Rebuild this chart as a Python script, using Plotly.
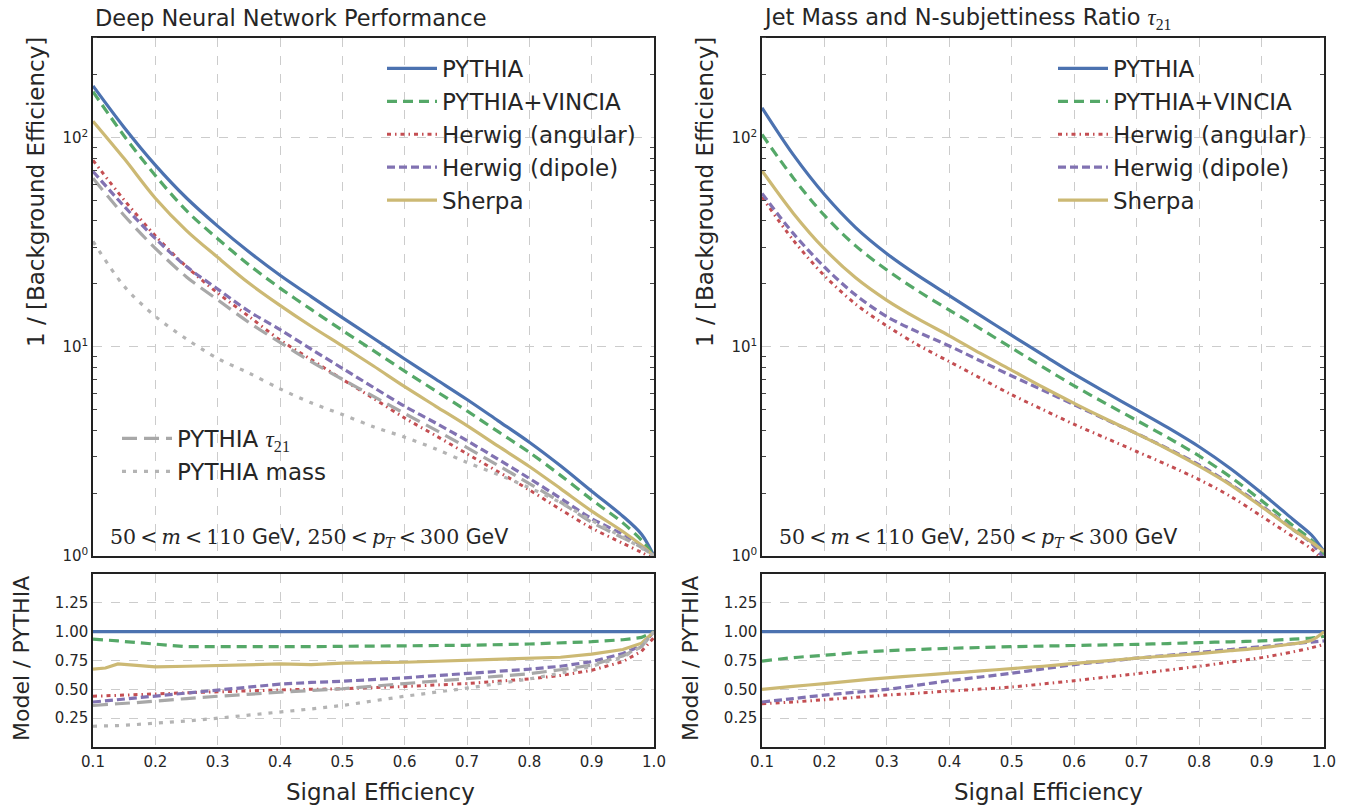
import plotly.graph_objects as go

# ---------------- data ----------------
X_MAIN = [0.1, 0.15, 0.2, 0.25, 0.3, 0.35, 0.4, 0.45, 0.5, 0.55, 0.6, 0.65, 0.7, 0.75,
          0.8, 0.85, 0.9, 0.95, 0.98, 1.0]

# Left panel: Deep Neural Network
DNN_PYTHIA = [177, 112, 74, 51.5, 37.8, 28.5, 22, 17.4, 13.8, 11.0, 8.75, 7.0, 5.6, 4.43, 3.5, 2.7, 2.04, 1.55, 1.27, 1.0]
DNN_VINCIA = [166, 102, 66, 44.8, 32.9, 24.7, 19.1, 15.1, 12.0, 9.6, 7.65, 6.15, 4.94, 3.93, 3.13, 2.43, 1.86, 1.44, 1.19, 1.0]
DNN_ANGULAR = [78, 50.4, 34, 24.2, 18.1, 14.0, 10.8, 8.7, 7.0, 5.67, 4.57, 3.76, 3.08, 2.53, 2.07, 1.67, 1.36, 1.15, 1.04, 0.97]
DNN_DIPOLE = [69, 47, 33, 24.2, 18.9, 14.8, 12.1, 9.75, 7.9, 6.4, 5.2, 4.32, 3.56, 2.9, 2.35, 1.89, 1.51, 1.27, 1.12, 1.0]
DNN_SHERPA = [120, 79.5, 51.4, 36, 26.8, 20.2, 15.8, 12.55, 10.1, 8.1, 6.45, 5.2, 4.2, 3.35, 2.68, 2.1, 1.64, 1.31, 1.125, 1.0]
DNN_TAU21 = [64, 42.5, 29.6, 21.6, 16.8, 13.1, 10.5, 8.5, 7.0, 5.8, 4.8, 4.0, 3.3, 2.71, 2.22, 1.81, 1.45, 1.22, 1.1, 1.0]
DNN_MASS = [32, 19.5, 14, 10.9, 8.8, 7.5, 6.3, 5.4, 4.75, 4.15, 3.7, 3.25, 2.8, 2.45, 2.12, 1.8, 1.48, 1.23, 1.09, 1.0]

# Right panel: jet mass + tau21
CUT_PYTHIA = [139, 83, 53.5, 37.2, 27.9, 21.9, 17.6, 14.1, 11.35, 9.16, 7.4, 6.07, 5.0, 4.11, 3.33, 2.62, 2.0, 1.5, 1.26, 1.05]
CUT_VINCIA = [103.6, 64.3, 42.5, 30.4, 23.3, 18.5, 15.0, 12.2, 9.87, 8.0, 6.51, 5.37, 4.45, 3.68, 3.01, 2.39, 1.84, 1.40, 1.19, 1.01]
CUT_ANGULAR = [52.1, 32.4, 21.9, 16.0, 12.6, 10.2, 8.5, 7.08, 5.9, 5.01, 4.26, 3.67, 3.16, 2.72, 2.32, 1.93, 1.55, 1.24, 1.08, 0.94]
CUT_DIPOLE = [54.2, 34.9, 24.1, 17.7, 13.95, 11.76, 10.1, 8.56, 7.26, 6.2, 5.29, 4.5, 3.85, 3.26, 2.73, 2.21, 1.74, 1.34, 1.15, 0.97]
CUT_SHERPA = [69.5, 43.6, 29.4, 21.4, 16.7, 13.6, 11.3, 9.3, 7.72, 6.41, 5.37, 4.53, 3.85, 3.24, 2.69, 2.19, 1.72, 1.34, 1.165, 1.05]

# Ratio panels
X_RATIO_L = [0.1, 0.12, 0.14, 0.17, 0.2, 0.25, 0.3, 0.35, 0.4, 0.45, 0.5, 0.6, 0.7, 0.8, 0.85, 0.9, 0.95, 0.98, 1.0]
R_DNN_PYTHIA = [1.0, 1.0, 1.0, 1.0, 1.0, 1.0, 1.0, 1.0, 1.0, 1.0, 1.0, 1.0, 1.0, 1.0, 1.0, 1.0, 1.0, 1.0, 1.0]
R_DNN_VINCIA = [0.935, 0.93, 0.92, 0.905, 0.89, 0.87, 0.87, 0.868, 0.868, 0.87, 0.873, 0.876, 0.882, 0.893, 0.90, 0.913, 0.93, 0.95, 1.0]
R_DNN_ANGULAR = [0.44, 0.445, 0.45, 0.455, 0.46, 0.47, 0.48, 0.49, 0.495, 0.50, 0.505, 0.525, 0.55, 0.59, 0.62, 0.665, 0.74, 0.83, 0.95]
R_DNN_DIPOLE = [0.39, 0.40, 0.41, 0.43, 0.445, 0.47, 0.495, 0.52, 0.545, 0.56, 0.57, 0.60, 0.635, 0.675, 0.70, 0.74, 0.81, 0.88, 1.0]
R_DNN_SHERPA = [0.675, 0.685, 0.72, 0.705, 0.695, 0.70, 0.705, 0.71, 0.72, 0.715, 0.727, 0.735, 0.75, 0.765, 0.778, 0.805, 0.845, 0.9, 1.0]
R_DNN_TAU21 = [0.36, 0.365, 0.375, 0.385, 0.40, 0.42, 0.44, 0.46, 0.475, 0.49, 0.505, 0.55, 0.59, 0.635, 0.67, 0.71, 0.79, 0.87, 1.0]
R_DNN_MASS = [0.18, 0.182, 0.186, 0.195, 0.205, 0.225, 0.25, 0.275, 0.30, 0.33, 0.36, 0.44, 0.51, 0.59, 0.64, 0.70, 0.78, 0.87, 1.0]

X_RATIO_R = [0.1, 0.15, 0.2, 0.25, 0.3, 0.35, 0.4, 0.45, 0.5, 0.55, 0.6, 0.65, 0.7, 0.75,
             0.8, 0.85, 0.9, 0.95, 0.98, 1.0]
R_CUT_PYTHIA = [1.0, 1.0, 1.0, 1.0, 1.0, 1.0, 1.0, 1.0, 1.0, 1.0, 1.0, 1.0, 1.0, 1.0, 1.0, 1.0, 1.0, 1.0, 1.0, 1.0]
R_CUT_VINCIA = [0.745, 0.775, 0.795, 0.818, 0.835, 0.846, 0.855, 0.863, 0.87, 0.875, 0.88, 0.885, 0.89, 0.897, 0.905, 0.912, 0.92, 0.935, 0.945, 0.96]
R_CUT_ANGULAR = [0.375, 0.39, 0.41, 0.43, 0.45, 0.467, 0.485, 0.502, 0.52, 0.547, 0.575, 0.605, 0.635, 0.667, 0.70, 0.737, 0.775, 0.825, 0.86, 0.89]
R_CUT_DIPOLE = [0.39, 0.42, 0.45, 0.475, 0.50, 0.537, 0.575, 0.607, 0.64, 0.677, 0.715, 0.742, 0.77, 0.795, 0.82, 0.845, 0.87, 0.895, 0.91, 0.92]
R_CUT_SHERPA = [0.50, 0.525, 0.55, 0.575, 0.60, 0.62, 0.64, 0.66, 0.68, 0.70, 0.725, 0.747, 0.77, 0.79, 0.81, 0.835, 0.86, 0.895, 0.925, 1.0]

X_TICKS = [0.1, 0.2, 0.3, 0.4, 0.5, 0.6, 0.7, 0.8, 0.9, 1.0]
RATIO_TICKS = [0.25, 0.5, 0.75, 1.0, 1.25]
LOG_TICKS = [1, 10, 100]
LOG_TICK_TEXT = ["10<sup>0</sup>", "10<sup>1</sup>", "10<sup>2</sup>"]
LOG_MINOR = [2, 3, 4, 5, 6, 7, 8, 9, 20, 30, 40, 50, 60, 70, 80, 90, 200, 300]

# ---------------- styles ----------------
BLUE, GREEN, RED, PURPLE, GOLD = "#4C72B0", "#55A868", "#C44E52", "#8172B2", "#CCB974"
GRAY1, GRAY2 = "#A8A8A8", "#B4B4B4"
STY = {
    "PYTHIA": dict(color=BLUE, width=3.2, dash="solid"),
    "PYTHIA+VINCIA": dict(color=GREEN, width=3.2, dash="10px,6px"),
    "Herwig (angular)": dict(color=RED, width=3, dash="4px,4px,1.5px,4px"),
    "Herwig (dipole)": dict(color=PURPLE, width=3.2, dash="8px,4px"),
    "Sherpa": dict(color=GOLD, width=3.2, dash="solid"),
    "tau": dict(color=GRAY1, width=3.2, dash="15px,7px"),
    "mass": dict(color=GRAY2, width=3.2, dash="4px,7px"),
}

SF = "DejaVu Sans, sans-serif"
MATH = "DejaVu Serif"
TXT = "#262626"

fig = go.Figure()

def add(x, y, key, name, xa, ya, legend=None, spline=True):
    st = STY[key]
    fig.add_trace(go.Scatter(
        x=x, y=y, mode="lines", name=name,
        line=dict(color=st["color"], width=st["width"], dash=st["dash"],
                  shape="spline" if spline else "linear", smoothing=0.9),
        xaxis=xa, yaxis=ya,
        showlegend=legend is not None, legend=legend if legend else "legend",
        legendgroup=(legend or "") + name,
        hoverinfo="skip",
    ))

TAU_NAME = "PYTHIA <span style='font-family:Liberation Serif'><i>τ</i><sub>21</sub></span>"

# left main
add(X_MAIN, DNN_PYTHIA, "PYTHIA", "PYTHIA", "x", "y", "legend")
add(X_MAIN, DNN_VINCIA, "PYTHIA+VINCIA", "PYTHIA+VINCIA", "x", "y", "legend")
add(X_MAIN, DNN_ANGULAR, "Herwig (angular)", "Herwig (angular)", "x", "y", "legend")
add(X_MAIN, DNN_DIPOLE, "Herwig (dipole)", "Herwig (dipole)", "x", "y", "legend")
add(X_MAIN, DNN_SHERPA, "Sherpa", "Sherpa", "x", "y", "legend")
add(X_MAIN, DNN_TAU21, "tau", TAU_NAME, "x", "y", "legend2")
add(X_MAIN, DNN_MASS, "mass", "PYTHIA mass", "x", "y", "legend2")
# left ratio
add(X_RATIO_L, R_DNN_PYTHIA, "PYTHIA", "PYTHIA", "x2", "y2", None, False)
add(X_RATIO_L, R_DNN_VINCIA, "PYTHIA+VINCIA", "PYTHIA+VINCIA", "x2", "y2", None, False)
add(X_RATIO_L, R_DNN_ANGULAR, "Herwig (angular)", "Herwig (angular)", "x2", "y2", None, False)
add(X_RATIO_L, R_DNN_DIPOLE, "Herwig (dipole)", "Herwig (dipole)", "x2", "y2", None, False)
add(X_RATIO_L, R_DNN_SHERPA, "Sherpa", "Sherpa", "x2", "y2", None, False)
add(X_RATIO_L, R_DNN_TAU21, "tau", "PYTHIA tau21", "x2", "y2", None, False)
add(X_RATIO_L, R_DNN_MASS, "mass", "PYTHIA mass", "x2", "y2", None, False)
# right main
add(X_MAIN, CUT_PYTHIA, "PYTHIA", "PYTHIA", "x3", "y3", "legend3")
add(X_MAIN, CUT_VINCIA, "PYTHIA+VINCIA", "PYTHIA+VINCIA", "x3", "y3", "legend3")
add(X_MAIN, CUT_ANGULAR, "Herwig (angular)", "Herwig (angular)", "x3", "y3", "legend3")
add(X_MAIN, CUT_DIPOLE, "Herwig (dipole)", "Herwig (dipole)", "x3", "y3", "legend3")
add(X_MAIN, CUT_SHERPA, "Sherpa", "Sherpa", "x3", "y3", "legend3")
# right ratio
add(X_RATIO_R, R_CUT_PYTHIA, "PYTHIA", "PYTHIA", "x4", "y4", None, True)
add(X_RATIO_R, R_CUT_VINCIA, "PYTHIA+VINCIA", "PYTHIA+VINCIA", "x4", "y4", None, True)
add(X_RATIO_R, R_CUT_ANGULAR, "Herwig (angular)", "Herwig (angular)", "x4", "y4", None, True)
add(X_RATIO_R, R_CUT_DIPOLE, "Herwig (dipole)", "Herwig (dipole)", "x4", "y4", None, True)
add(X_RATIO_R, R_CUT_SHERPA, "Sherpa", "Sherpa", "x4", "y4", None, True)

W, H = 1353, 805
def px(v): return v / W
def py(v): return 1 - v / H

LX = (px(93), px(654))
RX = (px(762), px(1324))
MAIN_Y = (py(556), py(38))
RAT_Y = (py(747), py(574))

GRID = dict(showgrid=True, gridcolor="#CCCCCC", griddash="dash", gridwidth=1)
FRAME = dict(showline=True, linecolor="#222222", linewidth=1.5, mirror=True, zeroline=False,
             automargin=False)
TF = dict(family=SF, size=15, color=TXT)

def xmain(dom, anchor):
    return dict(domain=dom, anchor=anchor, range=[0.1, 1.0], tickvals=X_TICKS,
                showticklabels=False, ticks="", **GRID, **FRAME)

def xrat(dom, anchor):
    return dict(domain=dom, anchor=anchor, range=[0.1, 1.0], tickvals=X_TICKS,
                tickformat=".1f", ticks="", tickfont=TF, **GRID, **FRAME)

def ymain(anchor):
    d = dict(domain=MAIN_Y, anchor=anchor, type="log", range=[0, 2.477],
             tickvals=LOG_TICKS, ticktext=LOG_TICK_TEXT, ticks="", tickfont=TF,
             minor=dict(tickvals=LOG_MINOR, ticks="inside", ticklen=4,
                        tickcolor="#444444", showgrid=False),
             **GRID, **FRAME)
    d["mirror"] = "ticks"
    return d

def yrat(anchor):
    return dict(domain=RAT_Y, anchor=anchor, range=[0, 1.5], tickvals=RATIO_TICKS,
                tickformat=".2f", ticks="", tickfont=TF, **GRID, **FRAME)

LEG = dict(font=dict(family=SF, size=23, color=TXT), bgcolor="rgba(0,0,0,0)",
           xanchor="left", yanchor="top", tracegroupgap=0, itemwidth=50,
           itemclick=False, itemdoubleclick=False)

fig.update_layout(
    width=W, height=H, autosize=False,
    margin=dict(l=0, r=0, t=0, b=0, autoexpand=False),
    paper_bgcolor="white", plot_bgcolor="white",
    font=dict(family=SF, color=TXT),
    xaxis=xmain(LX, "y"), yaxis=ymain("x"),
    xaxis2=xrat(LX, "y2"), yaxis2=yrat("x2"),
    xaxis3=xmain(RX, "y3"), yaxis3=ymain("x3"),
    xaxis4=xrat(RX, "y4"), yaxis4=yrat("x4"),
    legend=dict(x=px(382), y=py(47), **LEG),
    legend2=dict(x=px(117), y=py(417), **LEG),
    legend3=dict(x=px(1053), y=py(47), **LEG),
)

ann = []
def text(x, y, s, size, family, xanchor="center", yanchor="middle", angle=0):
    ann.append(dict(x=px(x), y=py(y), xref="paper", yref="paper", text=s, showarrow=False,
                    xanchor=xanchor, yanchor=yanchor, textangle=angle, align="left",
                    font=dict(family=family, size=size, color=TXT)))

text(93, 18, "Deep Neural Network Performance", 22.5, SF, "left")
text(761, 18, "Jet Mass and N-subjettiness Ratio <span style='font-family:Liberation Serif'><i>τ</i><sub>21</sub></span>", 22.5, SF, "left")
for cx in (36, 705):
    text(cx, 192, "1 / [Background Efficiency]", 23, SF, angle=-90)
for cx in (21, 690):
    text(cx, 659, "Model / PYTHIA", 22, SF, angle=-90)
for cx in (380, 1048):
    text(cx, 792, "Signal Efficiency", 23, SF)
TS = "&#8201;"
CUTS = (f"<span style='font-family:{MATH}'>50{TS}&lt;{TS}<i>m</i>{TS}&lt;{TS}110</span> GeV, "
        f"<span style='font-family:{MATH}'>250{TS}&lt;{TS}<i>p</i><sub><i>T</i></sub>{TS}&lt;{TS}300</span> GeV")
text(108, 538, CUTS, 20.5, SF, "left")
text(777, 538, CUTS, 20.5, SF, "left")

fig.update_layout(annotations=ann)
fig.write_html("out.html", config={"displayModeBar": False},
               post_script="document.body.style.margin='0';document.body.style.overflow='hidden';")
